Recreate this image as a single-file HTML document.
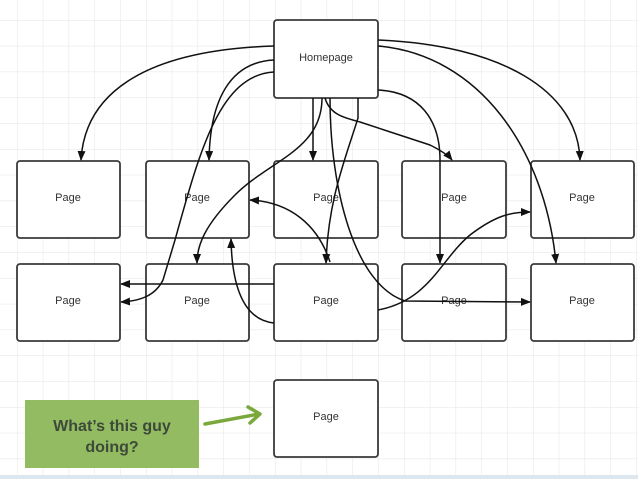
<!DOCTYPE html>
<html><head><style>
body{margin:0;width:638px;height:479px;overflow:hidden;background:#fff;font-family:"Liberation Sans",sans-serif}
</style></head><body>
<svg width="638" height="479" viewBox="0 0 638 479" xmlns="http://www.w3.org/2000/svg">
<defs>
<pattern id="g" x="17" y="20" width="25.8" height="25.8" patternUnits="userSpaceOnUse">
<path d="M0 0H25.8M0 0V25.8" stroke="#e4e4e4" stroke-width="1" fill="none"/>
</pattern>
<marker id="a" markerWidth="10" markerHeight="10" refX="9" refY="5" orient="auto" markerUnits="userSpaceOnUse">
<path d="M0,1 L10,5 L0,9 z" fill="#111"/>
</marker>
</defs>
<rect width="638" height="479" fill="url(#g)"/>
<rect x="0" y="475" width="638" height="4" fill="#dde7f0"/>
<g fill="#fff" stroke="#3a3a3a" stroke-width="1.8">
<rect x="274" y="20" width="104" height="78" rx="3"/>
<rect x="17" y="161" width="103" height="77" rx="3"/>
<rect x="146" y="161" width="103" height="77" rx="3"/>
<rect x="274" y="161" width="104" height="77" rx="3"/>
<rect x="402" y="161" width="104" height="77" rx="3"/>
<rect x="531" y="161" width="103" height="77" rx="3"/>
<rect x="17" y="264" width="103" height="77" rx="3"/>
<rect x="146" y="264" width="103" height="77" rx="3"/>
<rect x="274" y="264" width="104" height="77" rx="3"/>
<rect x="402" y="264" width="104" height="77" rx="3"/>
<rect x="531" y="264" width="103" height="77" rx="3"/>
<rect x="274" y="380" width="104" height="77" rx="3"/>
</g>
<g font-size="11" fill="#333" text-anchor="middle">
<text x="326" y="61">Homepage</text>
<text x="68" y="201">Page</text><text x="197" y="201">Page</text><text x="326" y="201">Page</text><text x="454" y="201">Page</text><text x="582" y="201">Page</text>
<text x="68" y="304">Page</text><text x="197" y="304">Page</text><text x="326" y="304">Page</text><text x="454" y="304">Page</text><text x="582" y="304">Page</text>
<text x="326" y="420">Page</text>
</g>
<g fill="none" stroke="#111" stroke-width="1.5">
<path d="M274,46 C150,50 85,90 81,160" marker-end="url(#a)"/>
<path d="M274,60 C230,62 210,100 209,160" marker-end="url(#a)"/>
<path d="M274,72 C220,75 200,150 175,240 L163,280 C155,296 140,301 121,302" marker-end="url(#a)"/>
<path d="M313,98 L313,160" marker-end="url(#a)"/>
<path d="M322,98 C322,150 270,160 235,195 C205,225 197,245 197,263" marker-end="url(#a)"/>
<path d="M358,98 L358,118 C345,160 328,200 326,263" marker-end="url(#a)"/>
<path d="M325,98 C330,115 345,118 360,122 L430,145 C440,150 448,155 452,160" marker-end="url(#a)"/>
<path d="M378,90 C420,92 440,120 440,160 L440,263" marker-end="url(#a)"/>
<path d="M378,40 C500,45 578,90 580,160" marker-end="url(#a)"/>
<path d="M378,46 C480,55 545,150 556,263" marker-end="url(#a)"/>
<path d="M274,284 L121,284" marker-end="url(#a)"/>
<path d="M274,323 C245,320 232,290 231,239" marker-end="url(#a)"/>
<path d="M330,98 C330,190 355,285 405,301 L530,302" marker-end="url(#a)"/>
<path d="M378,310 C430,300 440,260 470,235 C495,216 510,212 530,212" marker-end="url(#a)"/>
<path d="M330,262 C318,225 290,202 250,200" marker-end="url(#a)"/>
</g>
<rect x="25" y="400" width="174" height="68" fill="#93bb62"/>
<text x="112" y="431" font-size="16" font-weight="bold" fill="#3d4a3a" text-anchor="middle">What’s this guy</text>
<text x="112" y="452" font-size="16" font-weight="bold" fill="#3d4a3a" text-anchor="middle">doing?</text>
<g stroke="#7aa83c" stroke-width="3.5" fill="none" stroke-linecap="round" stroke-linejoin="round">
<path d="M205,424 L259,414"/>
<path d="M248,407 L260,414 L250,423"/>
</g>
</svg>
</body></html>
